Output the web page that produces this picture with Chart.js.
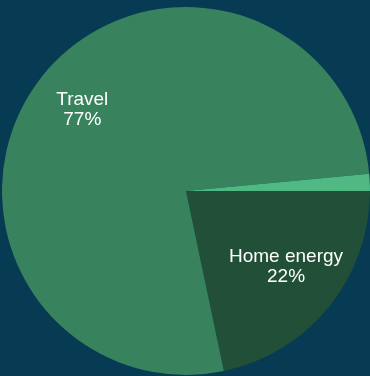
<!DOCTYPE html>
<html>
<head>
<meta charset="utf-8">
<script src="https://cdn.jsdelivr.net/npm/chart.js@4"></script>
<style>
  html, body { margin: 0; padding: 0; background: #063b53; overflow: hidden; }
  #wrap { position: absolute; left: 2px; top: 7px; width: 368px; height: 368px; }
</style>
</head>
<body>
<div id="wrap"><canvas id="pieChart" width="368" height="368"></canvas></div>
<script>
const categories = ["Home energy", "Travel", "Other"];
const shares = [21.7, 76.8, 1.5];
const sliceColors = ["#214f37", "#38825d", "#4fb883"];

// draw "Name / NN%" inside the bigger slices
const sliceLabels = {
  id: "sliceLabels",
  afterDatasetsDraw(chart) {
    const ctx = chart.ctx;
    const meta = chart.getDatasetMeta(0);
    const data = chart.data.datasets[0].data;
    const total = data.reduce((a, b) => a + b, 0);
    ctx.save();
    ctx.fillStyle = "#ffffff";
    ctx.font = "19px 'Liberation Sans', Arial, sans-serif";
    ctx.textAlign = "center";
    ctx.textBaseline = "middle";
    meta.data.forEach((arc, i) => {
      const pct = (data[i] / total) * 100;
      if (pct < 5) return;
      const p = arc.getProps(["x", "y", "startAngle", "endAngle", "outerRadius"], true);
      const mid = (p.startAngle + p.endAngle) / 2;
      const r = p.outerRadius * 0.7;
      const cx = p.x + Math.cos(mid) * r;
      const cy = p.y + Math.sin(mid) * r;
      ctx.fillText(chart.data.labels[i], cx, cy - 15);
      ctx.fillText(Math.round(pct) + "%", cx, cy + 5);
    });
    ctx.restore();
  },
};

new Chart(document.getElementById("pieChart").getContext("2d"), {
  type: "pie",
  data: {
    labels: categories,
    datasets: [
      {
        data: shares,
        backgroundColor: sliceColors,
        borderWidth: 0,
      },
    ],
  },
  options: {
    responsive: false,
    animation: false,
    rotation: 90,
    layout: { padding: 0 },
    plugins: {
      legend: { display: false },
      tooltip: { enabled: false },
      title: { display: false },
    },
  },
  plugins: [sliceLabels],
});
</script>
</body>
</html>
